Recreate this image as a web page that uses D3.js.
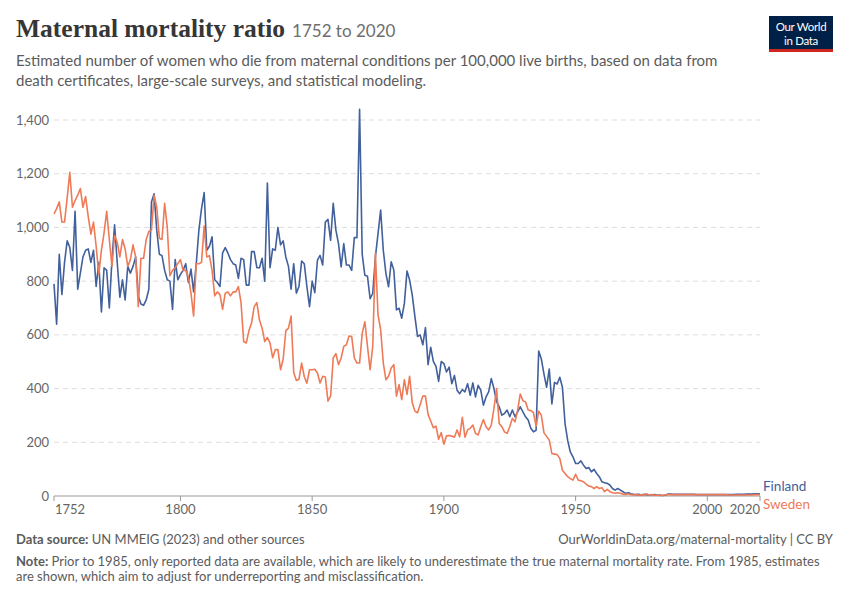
<!DOCTYPE html>
<html lang="en">
<head>
<meta charset="UTF-8">
<title>Maternal mortality ratio</title>
<script src="https://d3js.org/d3.v7.min.js"></script>
<style>
  body { margin: 0; background: #fff; }
  svg text { font-family: Lato, "Noto Sans", sans-serif; }
  .grid line { stroke: #ddd; stroke-dasharray: 5,4; }
  .tick-label { font-size: 13px; fill: #666; }
</style>
</head>
<body>
<div id="chart"></div>
<script>
// 数据：1752 年起逐年数值（每 10 年一行）
const firstYear = 1752;
const lastYear = 2020;
const countries = ["Finland", "Sweden"];
const colors = ["#41609C", "#EE7A57"];

const finland = [
  790, 640, 900, 750, 870, 950, 925, 840, 1060, 770,
  830, 890, 915, 920, 870, 915, 780, 870, 685, 850,
  840, 700, 880, 1010, 870, 740, 805, 730, 855, 830,
  855, 890, 745, 715, 710, 730, 770, 1095, 1125, 990,
  900, 895, 840, 805, 800, 695, 880, 805, 825, 840,
  865, 795, 845, 760, 865, 990, 1070, 1130, 915, 930,
  965, 805, 795, 780, 905, 925, 905, 880, 865, 860,
  810, 885, 880, 785, 785, 910, 910, 850, 850, 885,
  800, 1165, 850, 920, 915, 1000, 935, 950, 890, 855,
  770, 865, 755, 780, 875, 865, 780, 705, 800, 757,
  878, 896, 860, 1020, 1030, 952, 1090, 990, 940, 853,
  940, 860, 860, 840, 962, 962, 1440, 900, 822, 818,
  735, 755, 890, 977, 1065, 915, 828, 779, 872, 841,
  693, 699, 662, 717, 838, 804, 748, 668, 594, 600,
  563, 627, 489, 554, 501, 483, 427, 501, 493, 462,
  480, 418, 449, 394, 381, 396, 388, 418, 375, 421,
  369, 412, 394, 338, 369, 388, 437, 400, 351, 332,
  301, 307, 320, 295, 320, 295, 313, 332, 313, 295,
  283, 252, 239, 245, 540, 510, 454, 405, 473, 343,
  423, 417, 442, 405, 269, 207, 164, 146, 121, 121,
  131, 115, 102, 106, 90, 99, 84, 72, 53, 49,
  47, 41, 28, 22, 28, 22, 16, 10, 12, 8,
  6, 5, 6, 4, 6, 5, 3, 4, 5, 3,
  4, 2, 3, 7, 7, 6, 6, 6, 6, 6,
  6, 6, 6, 6, 5, 5, 5, 5, 5, 5,
  5, 5, 5, 5, 5, 5, 5, 5, 5, 6,
  6, 6, 6, 7, 7, 7, 8, 8, 8
];

const sweden = [
  1050, 1070, 1095, 1020, 1020, 1110, 1205, 1075, 1100, 1120,
  1145, 1075, 1115, 1040, 975, 1020, 930, 825, 915, 980,
  1060, 955, 855, 970, 945, 890, 955, 920, 855, 880,
  935, 890, 705, 885, 885, 955, 985, 990, 1120, 1075,
  960, 955, 1090, 1000, 820, 840, 850, 865, 880, 840,
  840, 815, 755, 670, 865, 865, 870, 1005, 890, 895,
  840, 745, 760, 750, 695, 755, 760, 745, 760, 760,
  780, 720, 575, 570, 615, 645, 705, 720, 655, 625,
  575, 590, 570, 515, 545, 545, 470, 510, 615, 625,
  670, 460, 430, 435, 495, 445, 420, 470, 470, 472,
  458, 421, 446, 443, 353, 372, 514, 530, 489, 514,
  557, 563, 596, 594, 514, 495, 495, 606, 649, 557,
  470, 557, 905, 674, 619, 495, 433, 446, 477, 489,
  372, 415, 359, 433, 378, 446, 347, 316, 310, 341,
  372, 372, 304, 279, 254, 260, 211, 236, 193, 224,
  225, 223, 219, 246, 221, 293, 219, 246, 252, 264,
  233, 227, 258, 285, 258, 246, 264, 326, 400, 270,
  258, 239, 233, 258, 289, 276, 320, 380, 355, 350,
  320, 318, 310, 260, 316, 300, 235, 222, 208, 158,
  156, 154, 140, 96, 84, 72, 65, 59, 81, 59,
  57, 53, 44, 37, 35, 28, 35, 28, 31, 16,
  25, 16, 12, 10, 12, 10, 7, 6, 8, 5,
  4, 6, 3, 5, 4, 8, 3, 5, 3, 4,
  2, 3, 4, 5, 5, 5, 5, 5, 5, 5,
  5, 5, 5, 5, 5, 5, 5, 5, 5, 5,
  5, 5, 5, 5, 5, 5, 4, 4, 4, 4,
  4, 4, 4, 4, 4, 4, 5, 5, 5
];

const yTicks = [0, 200, 400, 600, 800, 1000, 1200, 1400];
const xTicks = [1752, 1800, 1850, 1900, 1950, 2000, 2020];

const width = 850, height = 600;
const svg = d3.select("#chart").append("svg")
  .attr("width", width)
  .attr("height", height);

// 标题
const title = svg.append("text")
  .attr("x", 16).attr("y", 37)
  .style("font-family", "'Liberation Serif', 'DejaVu Serif', serif")
  .style("font-weight", "bold")
  .style("font-size", "25.5px")
  .attr("fill", "#363636")
  .text("Maternal mortality ratio");
const titleW = title.node().getComputedTextLength();
svg.append("text")
  .attr("x", 16 + titleW + 7).attr("y", 37)
  .style("font-size", "17px")
  .attr("fill", "#6e6e6e")
  .text(`${firstYear} to ${lastYear}`);

const subtitle = [
  "Estimated number of women who die from maternal conditions per 100,000 live births, based on data from",
  "death certificates, large-scale surveys, and statistical modeling."
];
svg.append("g").selectAll("text")
  .data(subtitle)
  .enter().append("text")
  .attr("x", 16)
  .attr("y", (d, i) => 66 + i * 20)
  .style("font-size", "15px")
  .attr("fill", "#5b5b5b")
  .text(d => d);

// logo
const logo = svg.append("g");
logo.append("rect").attr("x", 769).attr("y", 16).attr("width", 64).attr("height", 36).attr("fill", "#002147");
logo.append("rect").attr("x", 769).attr("y", 49).attr("width", 64).attr("height", 3).attr("fill", "#CE261E");
logo.selectAll("text.logo")
  .data(["Our World", "in Data"])
  .enter().append("text")
  .attr("x", 801)
  .attr("y", (d, i) => 31 + i * 14)
  .attr("text-anchor", "middle")
  .style("font-size", "11.5px")
  .style("letter-spacing", "-0.3px")
  .attr("fill", "#fff")
  .text(d => d);

// 比例尺
const x = d3.scaleLinear().domain([firstYear, lastYear]).range([54, 760]);
const y = d3.scaleLinear().domain([0, 1400]).range([496, 120]);

// 网格线
svg.append("g").attr("class", "grid")
  .selectAll("line")
  .data(yTicks.filter(d => d > 0))
  .enter().append("line")
  .attr("x1", x(firstYear)).attr("x2", x(lastYear))
  .attr("y1", d => y(d)).attr("y2", d => y(d));

svg.append("g").selectAll("text")
  .data(yTicks)
  .enter().append("text")
  .attr("class", "tick-label")
  .attr("x", 49)
  .attr("y", d => y(d))
  .attr("dy", "0.35em")
  .attr("text-anchor", "end")
  .text(d => d3.format(",")(d));

// x 轴
svg.append("line")
  .attr("x1", x(firstYear)).attr("x2", x(lastYear))
  .attr("y1", y(0)).attr("y2", y(0))
  .attr("stroke", "#999");
svg.append("g").selectAll("line")
  .data(xTicks)
  .enter().append("line")
  .attr("x1", d => x(d)).attr("x2", d => x(d))
  .attr("y1", y(0)).attr("y2", y(0) + 5)
  .attr("stroke", "#999");
svg.append("g").selectAll("text")
  .data(xTicks)
  .enter().append("text")
  .attr("class", "tick-label")
  .attr("x", d => x(d) + (d === firstYear ? 1 : 0))
  .attr("y", 514)
  .attr("text-anchor", d => d === firstYear ? "start" : (d === lastYear ? "end" : "middle"))
  .text(d => d);

// 折线
const series = [finland, sweden];
const line = d3.line()
  .x((d, i) => x(firstYear + i))
  .y(d => y(d));

svg.append("g").selectAll("path")
  .data(series)
  .enter().append("path")
  .attr("fill", "none")
  .attr("stroke", (d, i) => colors[i])
  .attr("stroke-width", 1.6)
  .attr("stroke-linejoin", "round")
  .attr("d", line);

// 图例标签
svg.append("g").selectAll("text")
  .data(countries)
  .enter().append("text")
  .attr("x", 763)
  .attr("y", (d, i) => 491 + i * 18)
  .style("font-size", "13.5px")
  .attr("fill", (d, i) => colors[i])
  .text(d => d);

// 页脚
const src = svg.append("text").attr("x", 16).attr("y", 544)
  .style("font-size", "13px").attr("fill", "#5b5b5b");
src.append("tspan").style("font-weight", "bold").text("Data source:");
src.append("tspan").text(" UN MMEIG (2023) and other sources");

svg.append("text").attr("x", 833).attr("y", 544)
  .attr("text-anchor", "end")
  .style("font-size", "13px").attr("fill", "#5b5b5b")
  .text("OurWorldinData.org/maternal-mortality | CC BY");

const note1 = svg.append("text").attr("x", 16).attr("y", 566)
  .style("font-size", "13px").attr("fill", "#5b5b5b");
note1.append("tspan").style("font-weight", "bold").text("Note:");
note1.append("tspan").text(" Prior to 1985, only reported data are available, which are likely to underestimate the true maternal mortality rate. From 1985, estimates");
svg.append("text").attr("x", 16).attr("y", 581)
  .style("font-size", "13px").attr("fill", "#5b5b5b")
  .text("are shown, which aim to adjust for underreporting and misclassification.");
</script>
</body>
</html>
